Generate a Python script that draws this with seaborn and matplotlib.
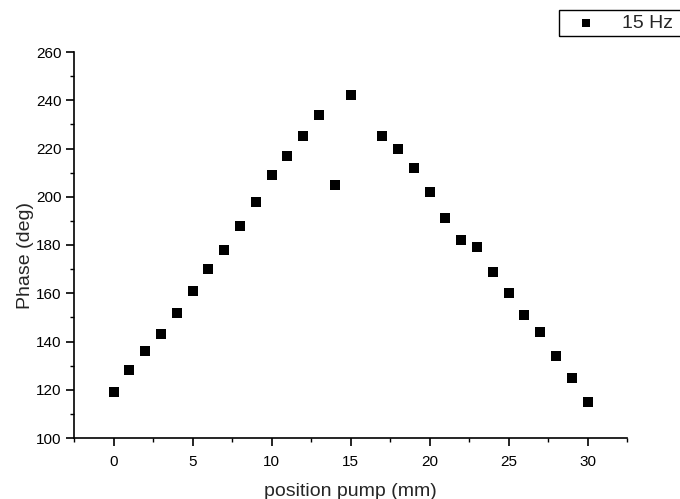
import matplotlib
matplotlib.use("Agg")
import matplotlib.pyplot as plt
from matplotlib.ticker import MultipleLocator
from matplotlib.patches import Rectangle
import seaborn as sns
import pandas as pd

# Measured phase versus pump position
position_mm = [0, 1, 2, 3, 4, 5, 6, 7, 8, 9, 10, 11, 12, 13, 14, 15,
               17, 18, 19, 20, 21, 22, 23, 24, 25, 26, 27, 28, 29, 30]
phase_deg = [119, 128, 136, 143, 152, 161, 170, 178, 188, 198, 209, 217, 225, 234, 205, 242,
             225, 220, 212, 202, 191, 182, 179, 169, 160, 151, 144, 134, 125, 115]
series_label = "15 Hz"

df = pd.DataFrame({"position": position_mm, "phase": phase_deg})

sns.set_style("ticks")
plt.rcParams["font.family"] = ["Liberation Sans", "DejaVu Sans"]

fig = plt.figure(figsize=(6.8, 4.99), dpi=100)
ax = fig.add_axes([74 / 680, 61 / 499, (627 - 74) / 680, (438 - 52) / 499])

sns.scatterplot(data=df, x="position", y="phase", ax=ax, marker="s", s=42,
                color="black", edgecolor="black", linewidth=0, label=series_label)

ax.set_xlim(-2.5, 32.5)
ax.set_ylim(100, 260)
ax.xaxis.set_major_locator(MultipleLocator(5))
ax.xaxis.set_minor_locator(MultipleLocator(2.5))
ax.yaxis.set_major_locator(MultipleLocator(20))
ax.yaxis.set_minor_locator(MultipleLocator(10))

for side in ("top", "right"):
    ax.spines[side].set_visible(False)
for side in ("left", "bottom"):
    ax.spines[side].set_linewidth(1.2)
    ax.spines[side].set_color("black")

ax.tick_params(which="major", length=6, width=1.2, direction="out", labelsize=11,
               colors="black")
ax.tick_params(axis="x", which="major", pad=6)
ax.tick_params(axis="y", which="major", pad=3)
ax.tick_params(which="minor", length=3, width=1.0, direction="out", colors="black")

ax.set_xlabel("position pump (mm)", fontsize=14, labelpad=10)
ax.set_ylabel("Phase (deg)", fontsize=14)
ax.yaxis.set_label_coords(-0.073, 0.474)

# Legend: frameless entry plus a box that runs off the right edge
leg = ax.legend(loc="center left", bbox_to_anchor=(574 / 680, 1 - 23 / 499),
                bbox_transform=fig.transFigure, frameon=False,
                fontsize=14, markerscale=0.85, handletextpad=1.25, handlelength=1.2,
                borderpad=0, borderaxespad=0)
fig.patches.append(Rectangle((559 / 680, 1 - 36 / 499), 140 / 680, 26 / 499,
                             transform=fig.transFigure, fill=False,
                             edgecolor="black", linewidth=1.0))

fig.savefig("out.png", dpi=100)
